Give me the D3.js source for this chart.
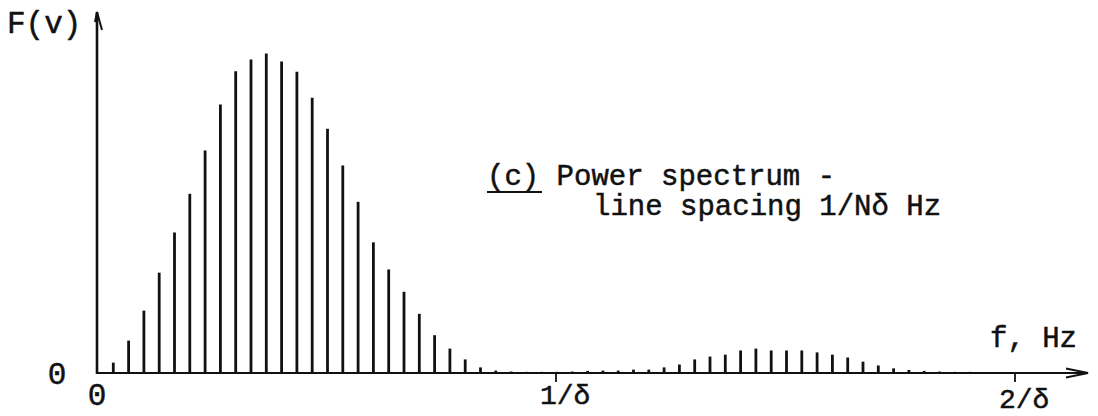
<!DOCTYPE html>
<html>
<head>
<meta charset="utf-8">
<script src="https://cdn.jsdelivr.net/npm/d3@7"></script>
<style>
  html, body { margin: 0; padding: 0; background: #fff; }
  svg { display: block; }
  text { font-family: "Liberation Mono", "Courier New", monospace; fill: #111; stroke: #111; stroke-width: 0.5px; }
</style>
</head>
<body>
<svg id="chart" width="1098" height="416"></svg>
<script>
// Line spectrum: N = 30 lines per 1/δ, harmonic index n = 0 .. 57
const linesPerInterval = 30;
const lineIndex = d3.range(0, 58);
// Relative power of each spectral line (peak = 100)
const power = [
  0, 3.1, 10.0, 19.4, 31.3, 43.9, 56.0, 69.6, 84.0, 94.4,
  98.1, 100, 97.5, 94.3, 86.1, 76.4, 64.9, 53.5, 40.8, 32.3,
  25.3, 18.4, 11.7, 7.5, 4.1, 1.6, 0.6, 0.3, 0.2, 0.2,
  0.2, 0.3, 0.5, 0.6, 0.6, 0.9, 0.9, 1.6, 2.5, 4.1,
  5.0, 5.6, 6.9, 7.5, 6.9, 6.9, 6.9, 6.3, 5.6, 4.7,
  3.4, 2.2, 1.3, 0.8, 0.5, 0.3, 0.2, 0.2
];
// Frequency ticks, in multiples of 1/δ
const tickValues = [1, 2];
const tickLabels = ["1/δ", "2/δ"];

const svg = d3.select("#chart");
const x = d3.scaleLinear().domain([0, 2]).range([98, 1016]);
const y = d3.scaleLinear().domain([0, 100]).range([373, 54]);
const x0 = x(0) - 1, y0 = y(0);

// spectral lines
svg.append("g")
  .selectAll("line")
  .data(lineIndex.filter(n => n > 0))
  .join("line")
  .attr("x1", n => x(n / linesPerInterval))
  .attr("x2", n => x(n / linesPerInterval))
  .attr("y1", y0)
  .attr("y2", n => y(power[n]) - 0.5)
  .attr("stroke", "#111")
  .attr("stroke-width", 2.8);

// frequency axis with open arrow head
svg.append("line")
  .attr("x1", x0).attr("x2", 1088).attr("y1", y0).attr("y2", y0)
  .attr("stroke", "#111").attr("stroke-width", 2);
svg.append("path")
  .attr("d", `M1066,${y0 - 4.5} L1088,${y0} L1066,${y0 + 4.5}`)
  .attr("fill", "none").attr("stroke", "#111").attr("stroke-width", 2);

// power axis
svg.append("line")
  .attr("x1", x0).attr("x2", x0).attr("y1", y0 + 1).attr("y2", 12)
  .attr("stroke", "#111").attr("stroke-width", 2.6);
svg.append("path")
  .attr("d", `M${x0 - 2},22 L${x0},12 L${x0 + 5},30`)
  .attr("fill", "none").attr("stroke", "#111").attr("stroke-width", 2);

// frequency ticks and labels
const ticks = svg.append("g");
ticks.selectAll("line")
  .data(tickValues)
  .join("line")
  .attr("x1", d => x(d) - 1).attr("x2", d => x(d) - 1)
  .attr("y1", y0 + 1).attr("y2", y0 + 9)
  .attr("stroke", "#111").attr("stroke-width", 1.8);
ticks.selectAll("text")
  .data(tickValues)
  .join("text")
  .attr("x", d => x(d) - 17)
  .attr("y", (d, i) => i === 0 ? 404 : 408)
  .attr("font-size", 28)
  .text((d, i) => tickLabels[i]);

// origin labels
svg.append("text").attr("x", 57).attr("y", 384).attr("font-size", 31)
  .attr("text-anchor", "middle").text("0");
svg.append("text").attr("x", 97).attr("y", 405).attr("font-size", 31)
  .attr("text-anchor", "middle").text("0");

// axis titles
svg.append("text").attr("x", 7).attr("y", 33).attr("font-size", 31).text("F(v)");
svg.append("text").attr("x", 990).attr("y", 347).attr("font-size", 29).text("f, Hz");

// caption
const cap = svg.append("g").attr("font-size", 29);
cap.append("text").attr("x", 487).attr("y", 185).text("(c) Power spectrum -");
cap.append("text").attr("x", 593).attr("y", 215).text("line spacing 1/Nδ Hz");
svg.append("line")
  .attr("x1", 487).attr("x2", 542).attr("y1", 192).attr("y2", 192)
  .attr("stroke", "#111").attr("stroke-width", 1.8);
</script>
</body>
</html>
